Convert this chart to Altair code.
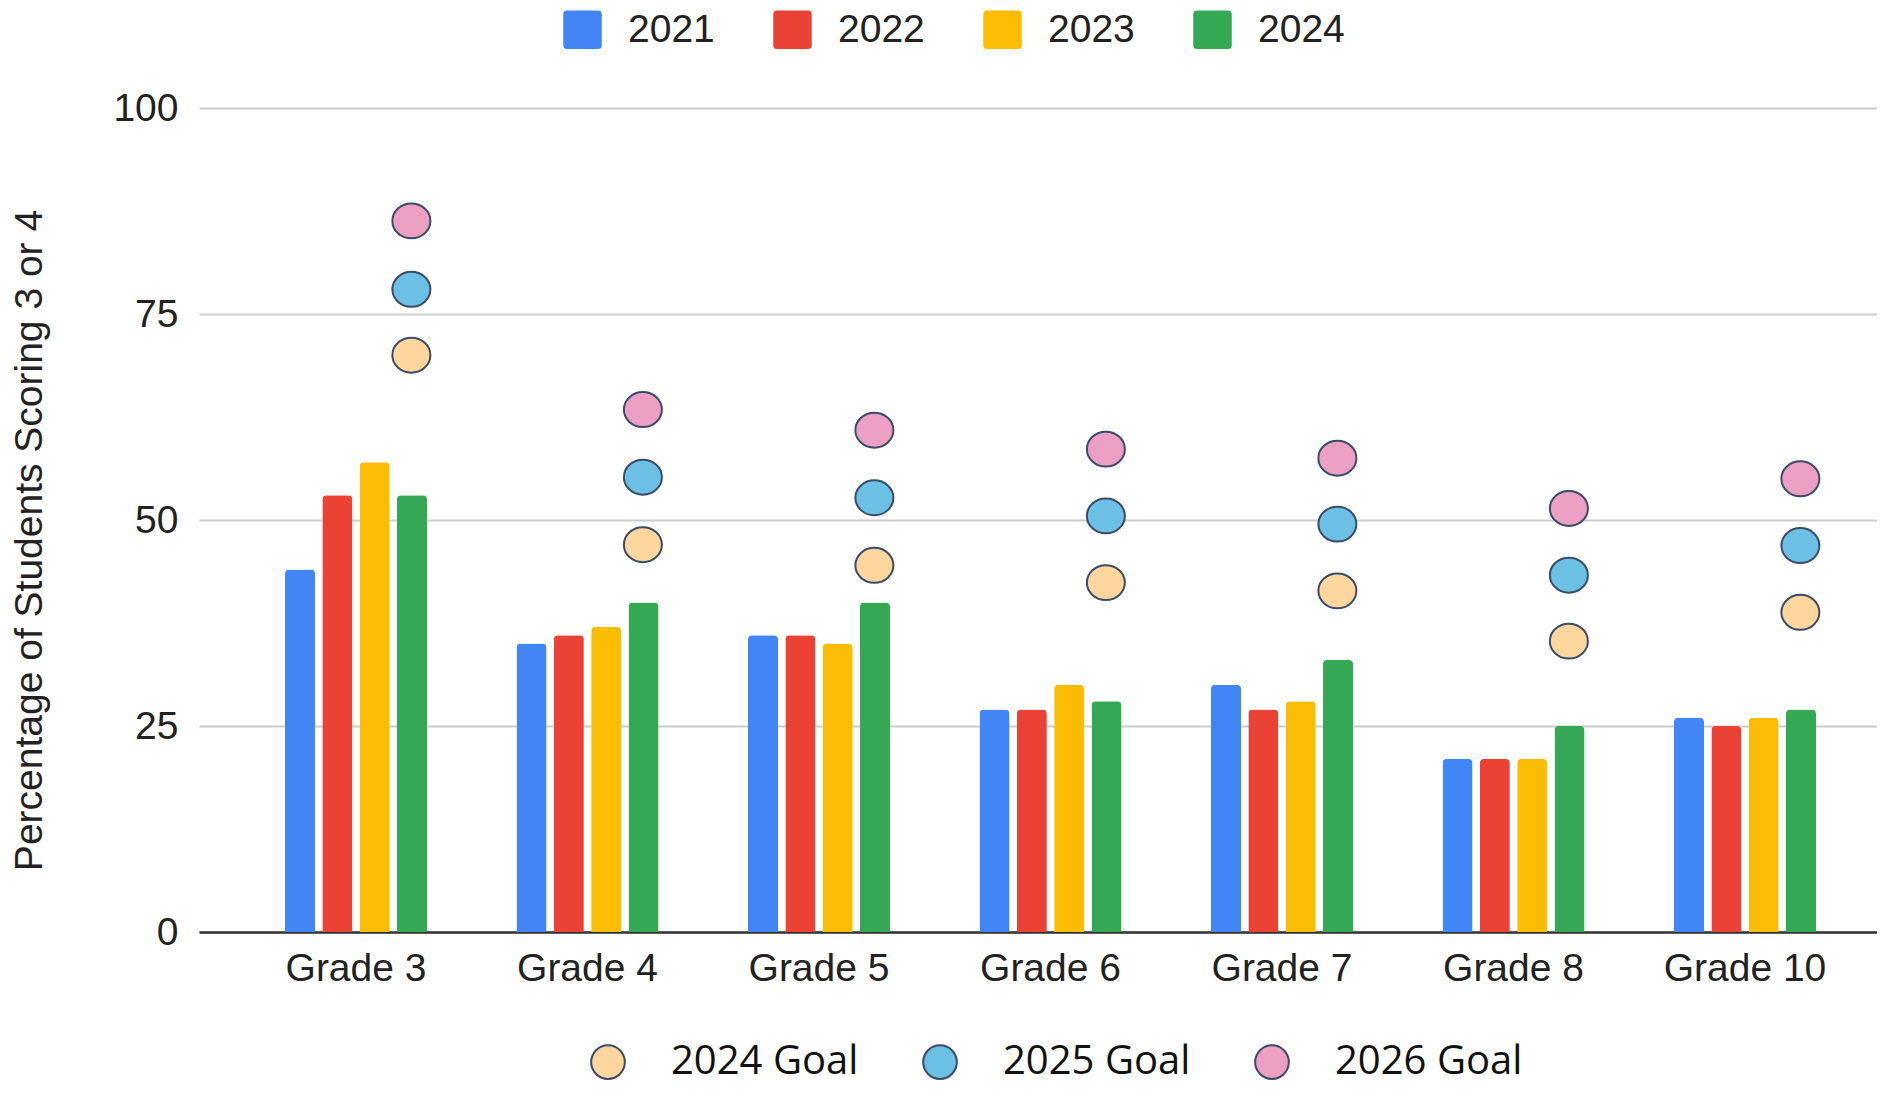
import altair as alt
import pandas as pd

grades = ["Grade 3", "Grade 4", "Grade 5", "Grade 6", "Grade 7", "Grade 8", "Grade 10"]
years = ["2021", "2022", "2023", "2024"]
v2021 = [44, 35, 36, 27, 30, 21, 26]
v2022 = [53, 36, 36, 27, 27, 21, 25]
v2023 = [57, 37, 35, 30, 28, 21, 26]
v2024 = [53, 40, 40, 28, 33, 25, 27]

goal_names = ["2024 Goal", "2025 Goal", "2026 Goal"]
goal2024 = [70, 47, 44.5, 42.4, 41.4, 35.3, 38.8]
goal2025 = [78, 55.2, 52.7, 50.5, 49.5, 43.3, 46.9]
goal2026 = [86.3, 63.4, 60.9, 58.6, 57.5, 51.4, 55.0]

y_ticks = [0, 25, 50, 75, 100]
bar_colors = ["#4285F4", "#EA4335", "#FBBC04", "#34A853"]
goal_colors = ["#FFD79E", "#6CC0E4", "#EBA0C3"]

bar_rows = []
for yr, vals in zip(years, [v2021, v2022, v2023, v2024]):
    for g, v in zip(grades, vals):
        bar_rows.append({"grade": g, "year": yr, "value": v})
bars_df = pd.DataFrame(bar_rows)

goal_rows = []
for gn, vals in zip(goal_names, [goal2024, goal2025, goal2026]):
    for g, v in zip(grades, vals):
        goal_rows.append({"grade": g, "goal": gn, "value": v})
goals_df = pd.DataFrame(goal_rows)

FONT = "Liberation Sans"
rounded_sq = "M-0.8,-1 L0.8,-1 Q1,-1 1,-0.8 L1,0.8 Q1,1 0.8,1 L-0.8,1 Q-1,1 -1,0.8 L-1,-0.8 Q-1,-1 -0.8,-1 Z"
ellipse = "M-1,0 A1,0.92 0 1,1 1,0 A1,0.92 0 1,1 -1,0 Z"

x_scale = alt.Scale(domain=grades, paddingInner=0.3866, paddingOuter=0.3175, align=0.585)
x_axis = alt.Axis(
    title=None, labelAngle=0, labelFont=FONT, labelFontSize=39, labelColor="#222222",
    labelPadding=17, ticks=False, domainColor="#333333", domainWidth=2.5, grid=False,
)
y_scale = alt.Scale(domain=[0, 100], nice=False)
y_axis = alt.Axis(
    values=y_ticks, title="Percentage of Students Scoring 3 or 4",
    labelFont=FONT, labelFontSize=39, labelColor="#222222", labelPadding=21,
    ticks=False, domain=False, gridColor="#CCCCCC", gridWidth=2,
    titleFont=FONT, titleFontSize=39, titleFontWeight="normal", titleColor="#222222",
    titleX=-170, titleY=432, titleAngle=270, titleAlign="center", titleBaseline="middle",
)

bars = alt.Chart(bars_df).mark_bar(cornerRadiusTopLeft=4, cornerRadiusTopRight=4).encode(
    x=alt.X("grade:N", scale=x_scale, axis=x_axis),
    xOffset=alt.XOffset("year:N", scale=alt.Scale(domain=years, paddingInner=0.196, paddingOuter=0)),
    y=alt.Y("value:Q", scale=y_scale, axis=y_axis),
    color=alt.Color(
        "year:N", scale=alt.Scale(domain=years, range=bar_colors),
        legend=alt.Legend(
            orient="none", legendX=364, legendY=-98, direction="horizontal", title=None,
            symbolType=rounded_sq, symbolSize=1482, symbolStrokeWidth=0,
            labelFont=FONT, labelFontSize=39, labelColor="#222222", labelLimit=0,
            labelOffset=26, columnPadding=58, padding=0,
        ),
    ),
)

points = alt.Chart(goals_df).mark_point(
    shape=ellipse, size=1444, filled=True, stroke="#3B4A66", strokeWidth=2, opacity=1
).encode(
    x=alt.X("grade:N", scale=x_scale, axis=x_axis, bandPosition=0.89),
    y=alt.Y("value:Q", scale=y_scale, axis=y_axis),
    fill=alt.Fill(
        "goal:N", scale=alt.Scale(domain=goal_names, range=goal_colors),
        legend=alt.Legend(
            orient="none", legendX=389, legendY=934, direction="horizontal", title=None,
            symbolType="circle", symbolSize=1134, symbolStrokeColor="#3B4A66",
            symbolStrokeWidth=2, symbolOpacity=1,
            labelFont="Open Sans", labelFontSize=40, labelColor="#111111", labelLimit=0,
            labelOffset=43, columnPadding=60, padding=0,
        ),
    ),
)

chart = alt.layer(bars, points).properties(
    width=1678, height=824,
    autosize=alt.AutoSizeParams(type="none"),
    padding={"left": 191, "top": 100, "right": 0, "bottom": 159},
    background="white",
).configure_view(stroke=None)

chart.save("out.html", embed_options={"renderer": "svg", "actions": False})
